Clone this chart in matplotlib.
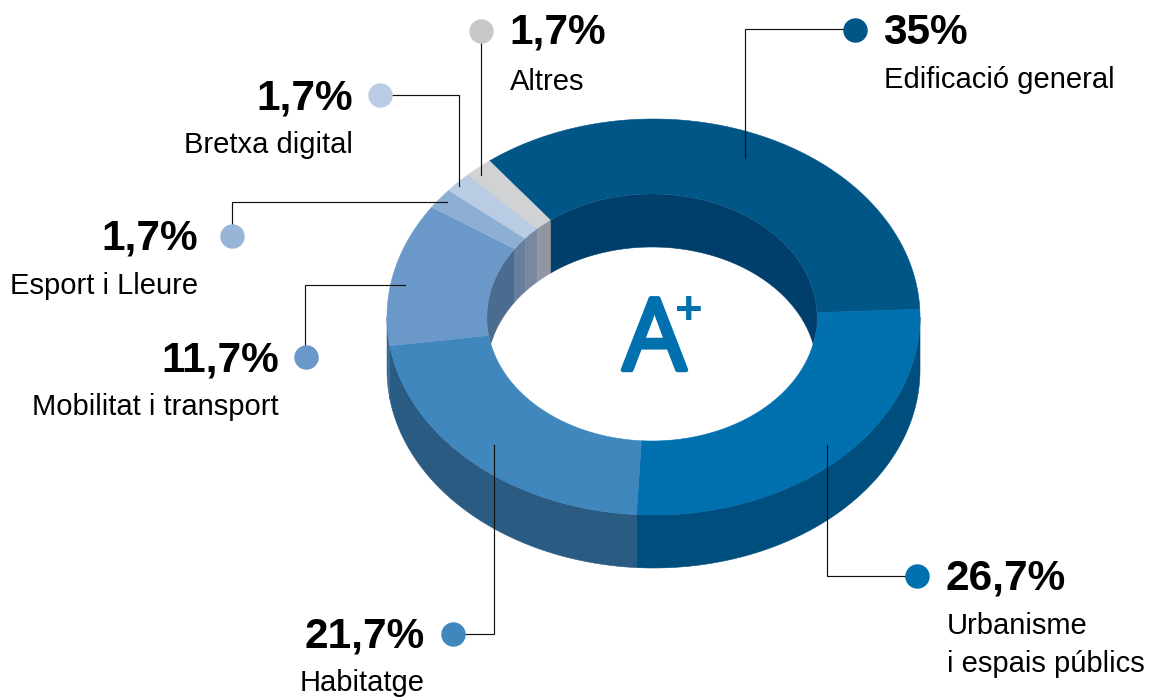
import numpy as np
import matplotlib
matplotlib.use("Agg")
import matplotlib.pyplot as plt
import matplotlib.patheffects as pe
from matplotlib.patches import Ellipse

plt.rcParams['font.family'] = ['Liberation Sans', 'DejaVu Sans']

# data, clockwise from the top left
categories = ['Edificació general', 'Urbanisme\ni espais públics', 'Habitatge',
              'Mobilitat i transport', 'Esport i Lleure', 'Bretxa digital', 'Altres']
values = [35, 26.7, 21.7, 11.7, 1.7, 1.7, 1.7]
value_labels = ['35%', '26,7%', '21,7%', '11,7%', '1,7%', '1,7%', '1,7%']

# colours
top_colors = ['#005686', '#0070AF', '#4087BE', '#6A99C9', '#8CAFD3', '#B9CCE4', '#D0D2D3']
side_colors = ['#004E7D', '#004E7D', '#2A5B82', '#3A6A94', '#3A6A94', '#3A6A94', '#3A6A94']
inner_colors = ['#003F6B', '#003F6B', '#4C6C8F', '#4C6C8F', '#667F9E', '#79879F', '#9296A0']
dot_colors = ['#005686', '#0070AF', '#4087BE', '#6A99C9', '#98B5D8', '#B9CCE4', '#C6C8CA']

# donut geometry in pixels
cx, cy, rx, ry = 653.5, 317, 266.5, 198
icx, icy, irx, iry = 652, 317.5, 165, 123.5
depth = 53
start_angle = 128

fig = plt.figure(figsize=(11.51, 6.98), dpi=100)
ax = fig.add_axes([0, 0, 1, 1])
ax.set_xlim(0, 1151)
ax.set_ylim(698, 0)
ax.axis('off')


def arc(x0, y0, a, b, t1, t2):
    t = np.radians(np.linspace(t1, t2, max(int(abs(t2 - t1) * 2), 2)))
    return x0 + a * np.cos(t), y0 - b * np.sin(t)


sweeps = np.array(values) / sum(values) * 360
ends = start_angle - np.cumsum(sweeps)
starts = ends + sweeps

hole = Ellipse((icx, icy), 2 * irx, 2 * iry, transform=ax.transData, fill=False, lw=0)
ax.add_patch(hole)

for i in range(len(values)):
    # outer wall, front half only
    t1, t2 = min(starts[i], 0), max(ends[i], -180)
    if t1 > t2:
        x, y = arc(cx, cy, rx, ry, t1, t2)
        ax.fill(np.r_[x, x[::-1]], np.r_[y, y[::-1] + depth], color=side_colors[i], lw=0.4, zorder=1)

    # top of the ring
    x1, y1 = arc(cx, cy, rx, ry, starts[i], ends[i])
    x2, y2 = arc(icx, icy, irx, iry, ends[i], starts[i])
    ax.fill(np.r_[x1, x2], np.r_[y1, y2], color=top_colors[i], lw=0.4, zorder=2)

    # inner wall, back half only, cut to the hole
    for lo, hi in [(0, 180), (-360, -180)]:
        t1, t2 = min(starts[i], hi), max(ends[i], lo)
        if t1 > t2:
            x, y = arc(icx, icy, irx, iry, t1, t2)
            poly = ax.fill(np.r_[x, x[::-1]], np.r_[y, y[::-1] + depth], color=inner_colors[i], lw=0.4, zorder=3)[0]
            poly.set_clip_path(hole)

# leader lines
leaders = [
    ([745, 745, 855], [158, 29, 29]),
    ([827, 827, 917], [445, 576, 576]),
    ([494, 494, 453], [445, 634, 634]),
    ([405, 305, 305], [285, 285, 357]),
    ([447, 232, 232], [202, 202, 236]),
    ([459, 459, 380], [186, 95, 95]),
    ([481, 481], [175, 31]),
]
for lx, ly in leaders:
    ax.plot(lx, ly, color='#111111', lw=0.85, zorder=4, solid_joinstyle='miter')

# dots
dot_x = [855, 917, 453, 306, 232, 380, 481]
dot_y = [30, 576, 634, 357, 236, 95, 31]
for i in range(len(values)):
    ax.plot(dot_x[i], dot_y[i], 'o', ms=17.6, color=dot_colors[i], mew=0, zorder=5)

# text: anchor x, alignment, baseline of the value, baseline of the name
label_pos = [
    (883, 'left', 44, 88),
    (946, 'left', 590, 634),
    (425, 'right', 647, 691),
    (279, 'right', 371, 415),
    (198, 'right', 250, 294),
    (353, 'right', 109, 153),
    (509, 'left', 44, 90),
]
for i, (tx, ha, y1, y2) in enumerate(label_pos):
    ax.text(tx, y1, value_labels[i], ha=ha, va='baseline', fontsize=30.5, fontweight='bold', color='black', zorder=6)
    lines = categories[i].split('\n')
    for j, line in enumerate(lines):
        lha = ha
        lx = tx
        if ha == 'left':
            lx = tx + 1
        if line == 'Habitatge':
            lha, lx = 'left', 300
        ax.text(lx, y2 + j * 38, line, ha=lha, va='baseline', fontsize=21, color='black', zorder=6)

# centre logo
stroke = [pe.withStroke(linewidth=3.2, foreground='#0070AF', joinstyle='round', capstyle='round')]
ax.text(654.5, 370, 'A', ha='center', va='baseline', fontsize=72, family='Open Sans', color='#0070AF', path_effects=stroke, zorder=6)
ax.text(688.5, 324, '+', ha='center', va='baseline', fontsize=34, fontweight='bold', color='#0070AF', zorder=6)

fig.savefig('out.png', dpi=100)
